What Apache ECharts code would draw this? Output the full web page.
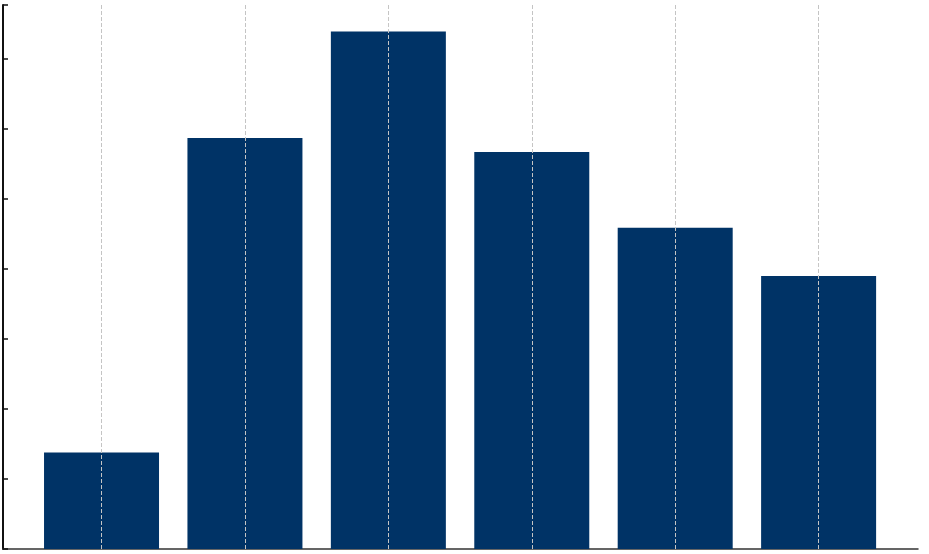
<!DOCTYPE html>
<html>
<head>
<meta charset="utf-8">
<script src="https://cdn.jsdelivr.net/npm/echarts@6/dist/echarts.min.js"></script>
<style>
  html, body { margin: 0; padding: 0; background: #fff; }
  #chart { width: 929px; height: 554px; }
</style>
</head>
<body>
<div id="chart"></div>
<script>
// bar positions on the x axis and their heights
const positions = [1, 2, 3, 4, 5, 6];
const values = [1.38, 5.87, 7.39, 5.67, 4.59, 3.9];

const chart = echarts.init(document.getElementById("chart"));

chart.setOption({
  animation: false,
  grid: { left: 3, right: 11, top: 5, bottom: 5, containLabel: false },
  xAxis: {
    type: "value",
    min: 0.313,
    max: 6.693,
    axisLine: { show: true, onZero: false, lineStyle: { color: "#333", width: 1.5 } },
    axisTick: { show: false },
    axisLabel: { show: false },
    splitLine: { show: false }
  },
  yAxis: {
    type: "value",
    min: 0,
    max: 7.77,
    interval: 1,
    axisLine: { show: true, onZero: false, lineStyle: { color: "#111", width: 2 } },
    axisTick: { show: true, inside: true, length: 5, lineStyle: { color: "#111", width: 1.5 } },
    axisLabel: { show: false },
    splitLine: { show: false }
  },
  series: [
    {
      type: "bar",
      data: positions.map((p, i) => [p, values[i]]),
      barWidth: 115,
      itemStyle: { color: "#003366" },
      markLine: {
        silent: true,
        symbol: "none",
        label: { show: false },
        lineStyle: { type: "dashed", color: "#c4c4c4", width: 1 },
        data: positions.map(p => ({ xAxis: p }))
      }
    }
  ]
});
</script>
</body>
</html>
